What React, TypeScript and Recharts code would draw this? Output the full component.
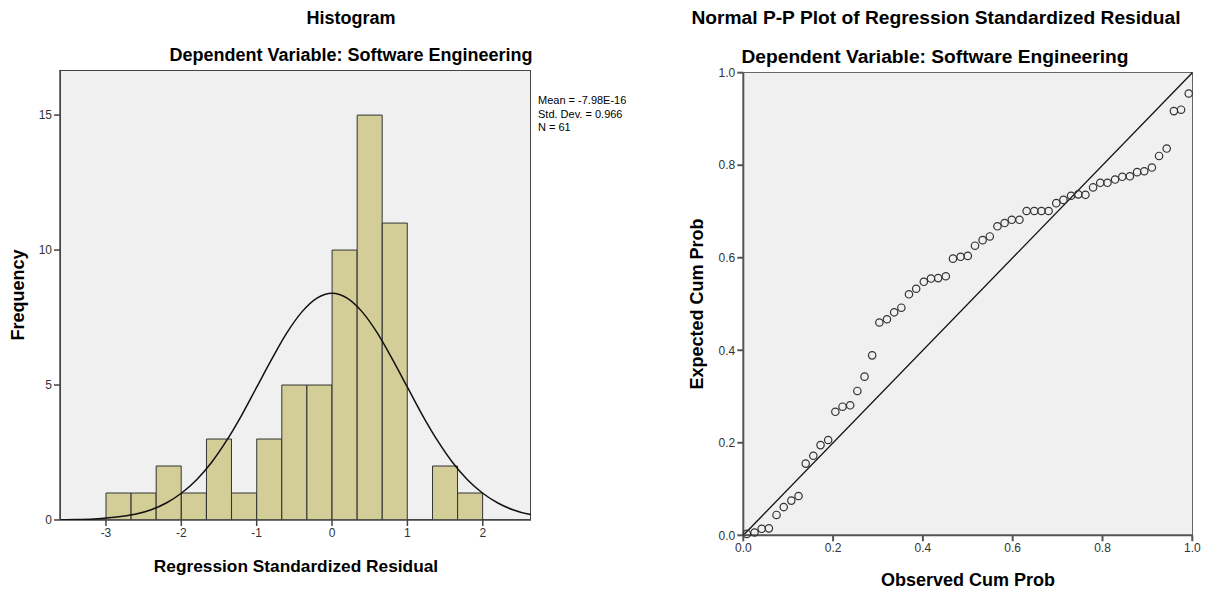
import { ComposedChart, ScatterChart, Bar, Line, Scatter, XAxis, YAxis, ReferenceLine } from 'recharts'

// histogram bins (width 1/3, from -3 to 2)
const binCenters = [-2.833, -2.5, -2.167, -1.833, -1.5, -1.167, -0.833, -0.5, -0.167, 0.167, 0.5, 0.833, 1.167, 1.5, 1.833]
const binCounts = [1, 1, 2, 1, 3, 1, 3, 5, 5, 10, 15, 11, 0, 2, 1]

// normal curve as drawn over the histogram
const curveX = [
  -3.6, -3.4, -3.2, -3.0, -2.8, -2.6, -2.4, -2.2, -2.0, -1.8, -1.6, -1.4, -1.2, -1.0, -0.8, -0.6, -0.4, -0.2,
  0, 0.2, 0.4, 0.6, 0.8, 1.0, 1.2, 1.4, 1.6, 1.8, 2.0, 2.2, 2.4, 2.6, 2.64,
]
const curveY = [
  0.01, 0.02, 0.03, 0.07, 0.13, 0.22, 0.38, 0.63, 0.99, 1.48, 2.13, 2.94, 3.88, 4.92, 5.96, 6.93, 7.71, 8.22,
  8.4, 8.22, 7.71, 6.93, 5.96, 4.92, 3.88, 2.94, 2.13, 1.48, 0.99, 0.63, 0.38, 0.22, 0.2,
]

const histXTicks = [-3, -2, -1, 0, 1, 2]
const histYTicks = [0, 5, 10, 15]
const histXDomain = [-3.61, 2.64]
const histYDomain = [0, 16.67]
const statLines = ['Mean = -7.98E-16', 'Std. Dev. = 0.966', 'N = 61']

// P-P plot
const observedCumProb = [
  0.008, 0.025, 0.041, 0.057, 0.074, 0.09, 0.107, 0.123, 0.139, 0.156, 0.172, 0.189, 0.205, 0.221, 0.238, 0.254,
  0.27, 0.287, 0.303, 0.32, 0.336, 0.352, 0.369, 0.385, 0.402, 0.418, 0.434, 0.451, 0.467, 0.484, 0.5, 0.516,
  0.533, 0.549, 0.566, 0.582, 0.598, 0.615, 0.631, 0.648, 0.664, 0.68, 0.697, 0.713, 0.73, 0.746, 0.762, 0.779,
  0.795, 0.811, 0.828, 0.844, 0.861, 0.877, 0.893, 0.91, 0.926, 0.943, 0.959, 0.975, 0.992,
]
const expectedCumProb = [
  0.003, 0.006, 0.014, 0.015, 0.044, 0.061, 0.075, 0.085, 0.155, 0.172, 0.195, 0.206, 0.267, 0.278, 0.281, 0.312,
  0.343, 0.389, 0.46, 0.467, 0.482, 0.492, 0.521, 0.533, 0.548, 0.555, 0.556, 0.56, 0.598, 0.602, 0.604, 0.626,
  0.638, 0.646, 0.668, 0.675, 0.682, 0.682, 0.701, 0.701, 0.701, 0.701, 0.718, 0.725, 0.734, 0.737, 0.736, 0.752,
  0.762, 0.762, 0.769, 0.775, 0.776, 0.785, 0.787, 0.795, 0.82, 0.836, 0.917, 0.92, 0.955,
]
const ppTicks = [0, 0.2, 0.4, 0.6, 0.8, 1]

const FONT = '"Liberation Sans", Arial, sans-serif'
const tickStyle = { fill: '#333', fontSize: 12, fontFamily: FONT }

const histData = binCenters.map((x, i) => ({ x, count: binCounts[i] }))
const curveData = curveX.map((x, i) => ({ x, y: curveY[i] }))
const ppData = observedCumProb.map((x, i) => ({ x, y: expectedCumProb[i] }))

const Title = ({ text, cx, cy, size = 18 }: { text: string; cx: number; cy: number; size?: number }) => (
  <div
    style={{
      position: 'absolute', left: cx - 300, top: cy - 11, width: 600, height: 22, lineHeight: '22px',
      textAlign: 'center', fontWeight: 'bold', fontSize: size, fontFamily: FONT, color: '#000',
    }}
  >
    {text}
  </div>
)

const VTitle = ({ text, cx, cy }: { text: string; cx: number; cy: number }) => (
  <div
    style={{
      position: 'absolute', left: cx - 150, top: cy - 11, width: 300, height: 22, lineHeight: '22px',
      textAlign: 'center', fontWeight: 'bold', fontSize: 18, fontFamily: FONT, transform: 'rotate(-90deg)',
    }}
  >
    {text}
  </div>
)

const Ring = (props: any) => (
  <circle cx={props.cx} cy={props.cy} r={3.7} fill="none" stroke="#333" strokeWidth={1.2} />
)

export default function App() {
  return (
    <div style={{ position: 'fixed', left: 0, top: 0, width: 1205, height: 592, background: '#fff', overflow: 'hidden' }}>
      {/* histogram */}
      <div style={{ position: 'absolute', left: 60, top: 70, width: 471, height: 450, background: '#f0f0f0', border: '1px solid #444', boxSizing: 'border-box' }} />
      <Title text="Histogram" cx={351} cy={18} />
      <Title text="Dependent Variable: Software Engineering" cx={351} cy={55} />
      <VTitle text="Frequency" cx={18} cy={295} />
      <Title text="Regression Standardized Residual" cx={296} cy={566} size={17.3} />
      <div style={{ position: 'absolute', left: 538, top: 94, fontSize: 11, lineHeight: '13.5px', fontFamily: FONT, color: '#000' }}>
        {statLines.map((s) => (
          <div key={s}>{s}</div>
        ))}
      </div>
      <div style={{ position: 'absolute', left: 0, top: 0 }}>
        <ComposedChart
          width={600}
          height={592}
          data={histData}
          margin={{ top: 70, right: 69, left: 20, bottom: 42 }}
          barCategoryGap={0}
          barGap={0}
        >
          <XAxis
            dataKey="x"
            type="number"
            domain={histXDomain}
            ticks={histXTicks}
            allowDataOverflow
            height={30}
            tick={tickStyle}
            tickSize={6}
            stroke="#444"
            strokeWidth={1.5}
          />
          <YAxis
            type="number"
            domain={histYDomain}
            ticks={histYTicks}
            allowDataOverflow
            width={40}
            tick={tickStyle}
            tickSize={6}
            stroke="#444"
            strokeWidth={1.5}
          />
          <Bar dataKey="count" fill="#d3ce98" stroke="#333" strokeWidth={1} isAnimationActive={false} />
        </ComposedChart>
      </div>
      {/* normal curve, same plot area */}
      <div style={{ position: 'absolute', left: 0, top: 0 }}>
        <ComposedChart width={600} height={592} data={curveData} margin={{ top: 70, right: 69, left: 60, bottom: 72 }}>
          <XAxis dataKey="x" type="number" domain={histXDomain} allowDataOverflow hide />
          <YAxis type="number" domain={histYDomain} allowDataOverflow hide />
          <Line
            dataKey="y"
            type="monotone"
            stroke="#111"
            strokeWidth={1.5}
            dot={false}
            activeDot={false}
            isAnimationActive={false}
          />
        </ComposedChart>
      </div>

      {/* P-P plot */}
      <div style={{ position: 'absolute', left: 743, top: 72, width: 450, height: 464, background: '#f0f0f0', border: '1px solid #666', boxSizing: 'border-box' }} />
      <Title text="Normal P-P Plot of Regression Standardized Residual" cx={936} cy={18} size={19.2} />
      <Title text="Dependent Variable: Software Engineering" cx={935} cy={57} size={19.2} />
      <VTitle text="Expected Cum Prob" cx={697} cy={304} />
      <Title text="Observed Cum Prob" cx={968} cy={580} />
      <div style={{ position: 'absolute', left: 600, top: 0 }}>
        <ScatterChart width={605} height={592} margin={{ top: 72.7, right: 12.7, left: 103.3, bottom: 26.7 }}>
          <XAxis
            dataKey="x"
            type="number"
            domain={[0, 1]}
            ticks={ppTicks}
            tickFormatter={(v: number) => v.toFixed(1)}
            height={30}
            tick={tickStyle}
            tickSize={6}
            stroke="#555"
            strokeWidth={2}
          />
          <YAxis
            dataKey="y"
            type="number"
            domain={[0, 1]}
            ticks={ppTicks}
            tickFormatter={(v: number) => v.toFixed(1)}
            width={40}
            tick={tickStyle}
            tickSize={6}
            stroke="#555"
            strokeWidth={2}
          />
          <ReferenceLine
            segment={[{ x: 0, y: 0 }, { x: 1, y: 1 }]}
            stroke="#111"
            strokeWidth={1.3}
          />
          <Scatter data={ppData} shape={Ring} isAnimationActive={false} />
        </ScatterChart>
      </div>
    </div>
  )
}
